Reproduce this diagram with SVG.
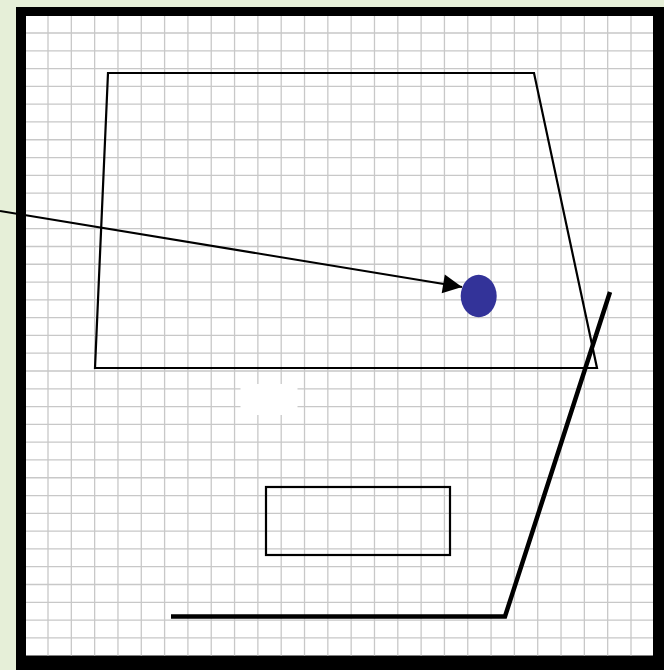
<svg xmlns="http://www.w3.org/2000/svg" width="664" height="670" viewBox="0 0 664 670">
<style>
.thin{fill:none;stroke:#000;stroke-width:2.2;stroke-linejoin:miter}
.thick{fill:none;stroke:#000;stroke-width:4.5;stroke-linejoin:miter}
.grid{fill:none;stroke:#c8c8c8;stroke-width:1.3}
</style>
<defs>
<marker id="ah" markerUnits="userSpaceOnUse" markerWidth="20" markerHeight="20" viewBox="-20 -10 20 20" refX="0" refY="0" orient="auto">
<path d="M0,0 L-19,-9.5 L-19,9.5 Z" fill="#000"/>
</marker>
</defs>
<rect x="0" y="0" width="664" height="670" fill="#e6efd8"/>
<g id="frame">
<rect x="16" y="7" width="648" height="663" fill="#000"/>
<rect x="26" y="16" width="627" height="639.5" fill="#fff"/>
</g>
<g id="grid">
<path class="grid" d="M48 16V655.5M71.32 16V655.5M94.64 16V655.5M117.96 16V655.5M141.28 16V655.5M164.6 16V655.5M187.92 16V655.5M211.24 16V655.5M234.56 16V655.5M257.88 16V655.5M281.2 16V655.5M304.52 16V655.5M327.84 16V655.5M351.16 16V655.5M374.48 16V655.5M397.8 16V655.5M421.12 16V655.5M444.44 16V655.5M467.76 16V655.5M491.08 16V655.5M514.4 16V655.5M537.72 16V655.5M561.04 16V655.5M584.36 16V655.5M607.68 16V655.5M631 16V655.5M26 33H653M26 50.79H653M26 68.58H653M26 86.37H653M26 104.16H653M26 121.95H653M26 139.74H653M26 157.53H653M26 175.32H653M26 193.11H653M26 210.9H653M26 228.69H653M26 246.48H653M26 264.27H653M26 282.06H653M26 299.85H653M26 317.64H653M26 335.43H653M26 353.22H653M26 371.01H653M26 388.8H653M26 406.59H653M26 424.38H653M26 442.17H653M26 459.96H653M26 477.75H653M26 495.54H653M26 513.33H653M26 531.12H653M26 548.91H653M26 566.7H653M26 584.49H653M26 602.28H653M26 620.07H653M26 637.86H653"/>
</g>
<g id="blank">
<rect x="240.5" y="384" width="57" height="31" fill="#fff"/>
</g>
<g id="trapezoid">
<path class="thin" d="M108 73 L534 73 L597 368 L95 368 Z"/>
</g>
<g id="dot">
<ellipse cx="478.7" cy="296" rx="18" ry="21.2" fill="#333399"/>
</g>
<g id="box">
<rect class="thin" x="266" y="487" width="184" height="68"/>
</g>
<g id="thickline">
<path class="thick" d="M610 292 L505 616.5 L171 616.5"/>
</g>
<g id="connectors">
<line x1="0" y1="211" x2="462" y2="287" stroke="#000" stroke-width="2" marker-end="url(#ah)"/>
</g>
</svg>
